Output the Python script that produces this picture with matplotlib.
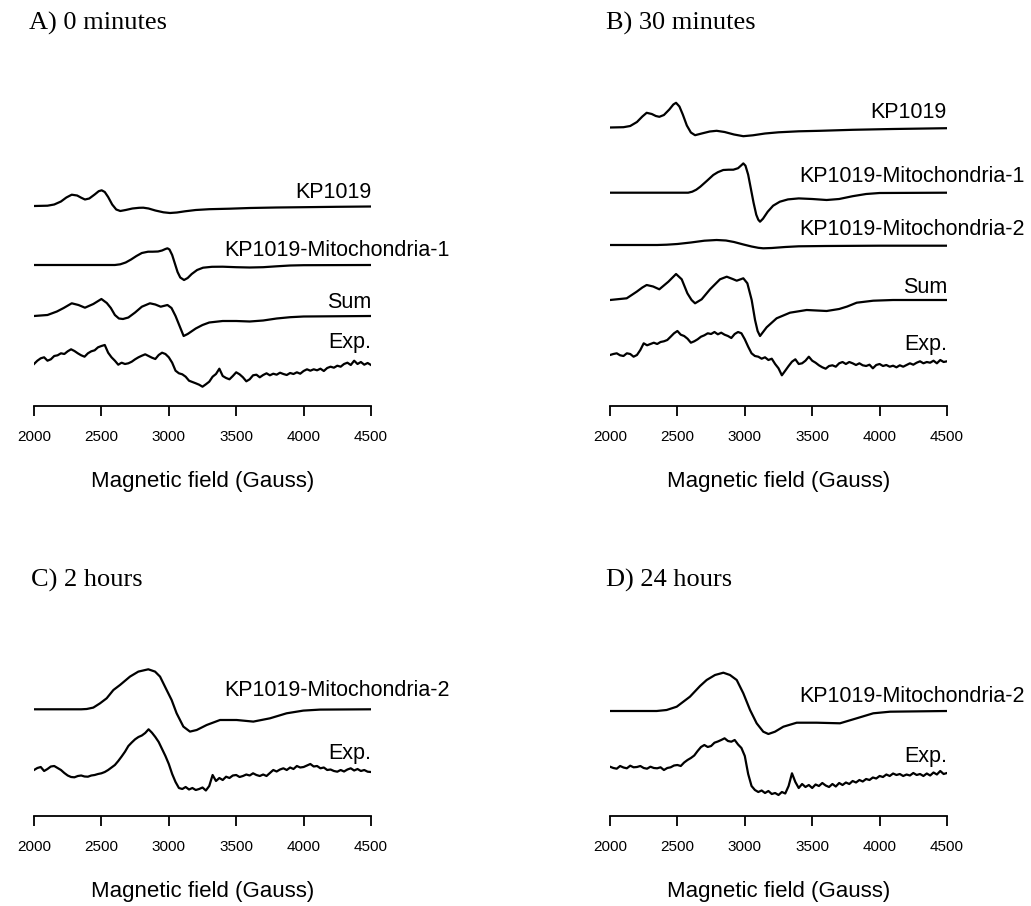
import numpy as np
import matplotlib
matplotlib.use("Agg")
import matplotlib.pyplot as plt

plt.rcParams["font.family"] = ["Liberation Sans", "DejaVu Sans"]

# ---- data (amplitudes in arbitrary units) ----
# common field grid for the experimental (noisy) spectra, Gauss
exp_field = np.arange(2000, 4501, 25)

# A) 0 minutes
a_kp_field = [2000, 2100, 2150, 2200, 2240, 2280, 2320, 2350, 2378, 2410, 2450, 2480, 2502, 2525, 2550,
              2580, 2610, 2640, 2680, 2730, 2780, 2811, 2850, 2900, 2960, 3009, 3060, 3120, 3200, 3300,
              3450, 3600, 3800, 4000, 4250, 4500]
a_kp_amp = [0, 0.3, 1.5, 4.5, 8.5, 11.3, 10.5, 8.3, 6.5, 7.5, 11.5, 14.8, 15.7, 14, 9,
            1.5, -3.5, -5, -4, -2.5, -1.8, -1.7, -2.5, -4.5, -6.3, -7, -6.5, -5.3, -4, -3.2,
            -2.7, -2, -1.5, -1.2, -0.8, -0.5]

a_m1_field = [2000, 2600, 2640, 2680, 2720, 2760, 2800, 2846, 2880, 2920, 2950, 2975, 2990, 3005, 3025,
              3045, 3065, 3085, 3113, 3140, 3170, 3210, 3254, 3320, 3400, 3500, 3600, 3700, 3800, 3900,
              4000, 4500]
a_m1_amp = [0, 0, 0.7, 2.5, 5.5, 9, 12, 13.3, 13.3, 13.5, 14.5, 16, 16.7, 15.5, 10,
            1.5, -7, -12.5, -15, -13, -9, -5, -2.7, -1.8, -1.7, -2.2, -2.5, -2.2, -1.3, -0.5,
            -0.2, 0]

a_sum_field = [2000, 2100, 2170, 2220, 2280, 2330, 2378, 2440, 2500, 2540, 2570, 2600, 2630, 2660, 2700,
               2750, 2800, 2860, 2900, 2940, 2990, 3020, 3050, 3080, 3110, 3140, 3200, 3250, 3300, 3400,
               3500, 3600, 3700, 3800, 3900, 4000, 4500]
a_sum_amp = [0, 1, 4.5, 8, 12.7, 11, 8.3, 12, 17, 13, 8, 1, -2.5, -3, -1.5,
             3.5, 9.3, 12.7, 11.5, 9.3, 11, 8, 0, -10, -20, -18, -12.5, -9, -6.5, -5,
             -5, -5.5, -4.5, -2.5, -1.2, -0.5, 0]

a_exp_amp = [1, 4.3, 6.7, 7.7, 4.3, 5.7, 9, 9.7, 11.7, 11, 13.7, 15.7, 14, 11.7, 9.7, 8.3,
             11.7, 13.7, 14.7, 17.7, 19, 20, 12.3, 7.7, 4.3, 0.3, 2.3, 1, 1.7, 3.3, 5.7, 7.7,
             9.3, 10.7, 9, 7.3, 6, 10, 12.3, 11, 7.7, 2.3, -5.7, -8.3, -9.3, -11.7, -15.7, -17,
             -18.3, -19.7, -21.7, -19.3, -16.7, -11.7, -9, -3.7, -11, -13, -14.3, -11, -7.3, -9.3,
             -12.3, -16.3, -14.3, -10.3, -9.7, -12.3, -10, -8.3, -10.3, -8.7, -9.7, -7.7, -9, -10,
             -8, -9, -7.3, -8.7, -6, -4.3, -5.7, -4.3, -5.3, -3.7, -6, -3, -1.7, -2.7, -0.7,
             -1.7, 1, 2.3, 0, 4.3, 1, 3, 0.3, 2, 0]

# B) 30 minutes
b_kp_field = [2000, 2100, 2150, 2200, 2240, 2272, 2310, 2340, 2366, 2400, 2440, 2470, 2490, 2515, 2540,
              2570, 2600, 2631, 2680, 2740, 2791, 2850, 2920, 2989, 3060, 3150, 3250, 3400, 3558, 3800,
              4100, 4500]
b_kp_amp = [0, 0.3, 1.5, 5.5, 11, 14.7, 13.5, 11.5, 10.7, 12.5, 18, 23, 24.7, 21, 13,
            2, -5, -7.7, -6, -4, -3.3, -4.5, -7, -8.7, -7.8, -6, -4.8, -3.8, -3.3, -2.3,
            -1.5, -0.7]

b_m1_field = [2000, 2580, 2610, 2640, 2670, 2720, 2766, 2800, 2840, 2880, 2915, 2950, 2975, 2989, 3005,
              3025, 3045, 3065, 3085, 3100, 3113, 3135, 3170, 3210, 3260, 3320, 3400, 3500, 3607, 3700,
              3800, 3900, 4000, 4500]
b_m1_amp = [0, 0, 1, 3, 6, 12, 17.7, 20.5, 22.7, 23, 23, 24.5, 27.5, 29.3, 27,
            18, 4, -10, -22, -27, -29, -26, -19, -13, -9, -6.7, -5.7, -6.3, -7.3, -6.3,
            -3.5, -1.3, -0.3, 0]

b_m2_field = [2000, 2350, 2420, 2500, 2600, 2700, 2791, 2860, 2920, 2990, 3050, 3100, 3137, 3200, 3300,
              3400, 3600, 4000, 4500]
b_m2_amp = [0, 0, 0.3, 1, 2.5, 4.3, 5, 4.5, 3, 0.5, -1.5, -2.8, -3.3, -3, -2,
            -1.3, -1, -0.7, -0.7]

b_sum_field = [2000, 2124, 2198, 2240, 2272, 2320, 2366, 2433, 2490, 2532, 2574, 2605, 2631, 2680, 2742,
               2816, 2866, 2910, 2940, 2989, 3019, 3051, 3076, 3095, 3113, 3162, 3236, 3335, 3459, 3607,
               3700, 3760, 3830, 3953, 4100, 4500]
b_sum_amp = [0, 1.7, 8.3, 12.5, 15, 13.5, 10.7, 18.3, 26, 20.7, 6.7, 0, -3.3, 0.7, 10.7,
             20.7, 23.3, 21, 19.3, 21.7, 16.7, 0, -20, -31, -36, -27.3, -18.3, -12.7, -10, -11,
             -9, -6.5, -2.7, -0.7, 0, 0]

b_exp_amp = [0, 1, 1.7, -0.3, -1, 1.7, 1, -1.7, 0, 5, 11.7, 9.7, 11, 12.3, 11, 13,
             13.7, 15, 18.3, 21.7, 24, 20.3, 19, 16.3, 12.3, 13.7, 15.7, 18.3, 19.7, 21.7, 21, 23,
             20.7, 22.3, 20.3, 19, 17, 21, 23, 21.7, 15.7, 8.3, 1.7, -1, -1.7, -3.7, -2.3, -5,
             -3.7, -9, -13.3, -20.3, -15.7, -11, -6.7, -4.3, -9, -8.3, -5.7, -1.7, -5.7, -7.7,
             -10.3, -12.3, -13.7, -11, -10.3, -11.7, -8.3, -7, -9, -7, -8.3, -10, -8.3, -10.3,
             -11, -9.7, -13.3, -10, -9, -11, -10, -11.7, -10.7, -12.3, -10.3, -11.7, -10, -8.3,
             -9.7, -7.7, -6.3, -8.3, -7, -7.7, -5.7, -8.3, -5, -7, -6.3]

# C) 2 hours
c_m2_field = [2000, 2350, 2391, 2440, 2490, 2539, 2589, 2638, 2712, 2774, 2848, 2898, 2935, 2984, 3021,
              3058, 3108, 3157, 3207, 3281, 3380, 3503, 3627, 3751, 3874, 3998, 4122, 4500]
c_m2_amp = [0, 0, 0.3, 1.7, 6, 11, 19.3, 24.3, 32.7, 37.7, 40, 37.7, 32.7, 19.3, 9.3,
            -4, -17.3, -22.3, -20.7, -15.7, -10.7, -10.7, -12.3, -9, -4, -1.3, -0.3, 0]

c_exp_amp = [2, 4, 5, 1, 3, 5.5, 6, 4, 2, -1, -3.5, -5, -5.3, -4, -3.5, -4.5,
             -4.7, -3.5, -3, -2, -1.3, 0, 2, 4.5, 7, 11, 15.5, 20.3, 26, 29.5, 32.7, 35,
             36.5, 39, 42.7, 39.3, 35, 30, 23, 16, 8, -2, -10, -16, -17, -15, -17.5, -16,
             -18, -17, -15.5, -18.5, -14, -3, -9, -6, -8, -4.7, -6, -3.5, -3, -5, -4,
             -2.5, -3.5, -1.3, -3, -4, -2.5, -4, -1, 2, 0.5, 2.5, 3.7, 2, 4.5, 3, 6,
             4.5, 5, 6.5, 8, 5.5, 6, 3.7, 4.5, 2, 2.5, 1, 0.3, 2, 0.5, 2.5, 3.7, 1.5,
             3, 1, 2, 0.3, 0]

# D) 24 hours
d_m2_field = [2000, 2346, 2420, 2495, 2544, 2593, 2668, 2717, 2779, 2841, 2890, 2940, 2989, 3039, 3088,
              3137, 3175, 3224, 3286, 3385, 3533, 3706, 3830, 3953, 4077, 4500]
d_m2_amp = [0, 0, 1, 4.3, 9.3, 14.3, 25, 31, 36, 38.3, 36, 31, 17.7, 1, -12.3,
            -20.7, -23, -20.7, -15.7, -11.7, -11.7, -12.3, -7.3, -2.3, -0.7, 0]

d_exp_amp = [1.3, 0, -0.7, 2, 0.5, -0.3, 2.3, 0.7, 1, 2, 0, -0.7, 1.3, 0, -0.3, 0.7,
             -2, 0, 0.7, 2.5, 3, 2, 5.5, 8, 10, 12.5, 17, 21, 23, 21, 22, 25.3,
             26.5, 28, 29.7, 27, 26.3, 28, 23.5, 20, 12, -6, -18, -22, -24, -22.5, -25, -23,
             -26, -25, -27, -24, -25.5, -18, -5.3, -14, -20, -16, -19, -17, -20, -16.5, -18,
             -15, -17.5, -19, -16, -18.5, -15, -17, -14.5, -16, -13, -14.5, -12, -13.5, -11, -12,
             -9.5, -10.5, -8, -9, -6.5, -8, -5.5, -7, -6, -8, -6.5, -7.5, -5, -7, -6, -8,
             -5.5, -7.5, -4.5, -6.5, -3, -6, -5]

# ---- layout (pixels) ----
W, H = 1031, 906
fig = plt.figure(figsize=(W / 100, H / 100), dpi=100)
fig.patch.set_facecolor("white")

TITLE_FONT = ["Liberation Serif", "DejaVu Serif"]


def make_axes(left_px, axis_px, top_px):
    ax = fig.add_axes([left_px / W, (H - axis_px) / H, 337 / W, (axis_px - top_px) / H])
    ax.set_xlim(2000, 4500)
    ax.set_ylim(0, axis_px - top_px)
    for s in ["top", "right", "left"]:
        ax.spines[s].set_visible(False)
    ax.spines["bottom"].set_linewidth(1.3)
    ax.set_yticks([])
    ax.set_xticks([2000, 2500, 3000, 3500, 4000, 4500])
    ax.tick_params(axis="x", direction="out", length=7, width=1.3, pad=10, labelsize=11)
    ax.set_xlabel("Magnetic field (Gauss)", fontsize=16, labelpad=20)
    ax.patch.set_alpha(0)
    return ax


def trace(ax, field, amp, offset):
    ax.plot(field, np.asarray(amp) + offset, color="black", lw=1.6, solid_joinstyle="round")


def label(ax, text, x, y, ha="right"):
    ax.text(x, y, text, ha=ha, va="center", fontsize=15.5)


# A
ax = make_axes(34, 406, 60)
trace(ax, a_kp_field, a_kp_amp, 200)
trace(ax, a_m1_field, a_m1_amp, 141)
trace(ax, a_sum_field, a_sum_amp, 90)
trace(ax, exp_field, a_exp_amp, 41)
label(ax, "KP1019", 4500, 213)
label(ax, "KP1019-Mitochondria-1", 3415, 155, ha="left")
label(ax, "Sum", 4500, 103)
label(ax, "Exp.", 4500, 63)

# B
ax = make_axes(610, 406, 60)
trace(ax, b_kp_field, b_kp_amp, 278.5)
trace(ax, b_m1_field, b_m1_amp, 213.3)
trace(ax, b_m2_field, b_m2_amp, 161)
trace(ax, b_sum_field, b_sum_amp, 106)
trace(ax, exp_field, b_exp_amp, 51)
label(ax, "KP1019", 4500, 293)
label(ax, "KP1019-Mitochondria-1", 3405, 229, ha="left")
label(ax, "KP1019-Mitochondria-2", 3405, 176, ha="left")
label(ax, "Sum", 4500, 118)
label(ax, "Exp.", 4500, 61)

# C
ax = make_axes(34, 816, 620)
trace(ax, c_m2_field, c_m2_amp, 106.7)
trace(ax, exp_field, c_exp_amp, 44)
label(ax, "KP1019-Mitochondria-2", 3415, 125, ha="left")
label(ax, "Exp.", 4500, 62.7)

# D
ax = make_axes(610, 816, 620)
trace(ax, d_m2_field, d_m2_amp, 105)
trace(ax, exp_field, d_exp_amp, 48)
label(ax, "KP1019-Mitochondria-2", 3405, 119, ha="left")
label(ax, "Exp.", 4500, 59.3)

# panel titles
for txt, x, y in [("A) 0 minutes", 29, 23), ("B) 30 minutes", 606, 23),
                  ("C) 2 hours", 31, 580), ("D) 24 hours", 606, 580)]:
    fig.text(x / W, 1 - y / H, txt, ha="left", va="center", fontsize=19, family=TITLE_FONT)

fig.savefig("out.png", dpi=100, facecolor="white")
